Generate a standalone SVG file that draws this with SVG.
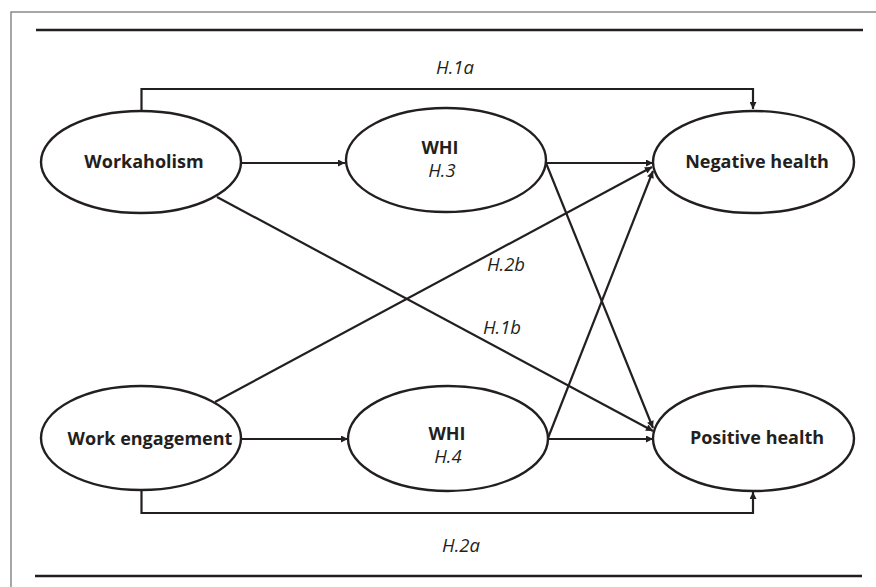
<svg xmlns="http://www.w3.org/2000/svg" width="876" height="587" viewBox="0 0 876 587">
<style>
.frame{fill:none;stroke:#6d6d6d;stroke-width:1.2}
.rule{stroke:#231f20;stroke-width:2.6}
.node{fill:#fff;stroke:#231f20;stroke-width:2.4}
.edge{fill:none;stroke:#231f20;stroke-width:2.2}
.lbl{font-family:"Open Sans","Liberation Sans",sans-serif;font-weight:bold;font-size:18px;fill:#231f20;text-anchor:middle}
.hyp{font-family:"Open Sans","Liberation Sans",sans-serif;font-style:italic;font-size:18.5px;fill:#231f20;text-anchor:middle}
</style>
<defs>
<marker id="arr" viewBox="0 0 10 10" refX="10" refY="5" markerWidth="9" markerHeight="7" markerUnits="userSpaceOnUse" orient="auto">
<path d="M0,0 L10,5 L0,10 z" fill="#231f20"/>
</marker>
</defs>
<rect class="frame" x="11" y="12" width="880" height="600"/>
<line class="rule" x1="36" y1="30" x2="863" y2="30"/>
<line class="rule" x1="35" y1="576" x2="862" y2="576"/>
<g id="connectors">
<path class="edge" d="M141.5,110 V89 H753 V109" marker-end="url(#arr)"/>
<path class="edge" d="M141.5,490 V513 H753 V492" marker-end="url(#arr)"/>
<line class="edge" x1="241" y1="163" x2="345" y2="163" marker-end="url(#arr)"/>
<line class="edge" x1="241" y1="439" x2="348" y2="439" marker-end="url(#arr)"/>
<line class="edge" x1="546" y1="163" x2="653" y2="163" marker-end="url(#arr)"/>
<line class="edge" x1="548" y1="439" x2="653" y2="439" marker-end="url(#arr)"/>
<line class="edge" x1="217" y1="197" x2="653" y2="431" marker-end="url(#arr)"/>
<line class="edge" x1="215" y1="402" x2="652" y2="167" marker-end="url(#arr)"/>
<line class="edge" x1="546" y1="163" x2="653" y2="428" marker-end="url(#arr)"/>
<line class="edge" x1="548" y1="438" x2="653" y2="171" marker-end="url(#arr)"/>
<text class="hyp" x="455" y="74">H.1a</text>
<text class="hyp" x="506" y="271">H.2b</text>
<text class="hyp" x="502" y="334">H.1b</text>
<text class="hyp" x="461" y="552">H.2a</text>
</g>
<g id="workaholism">
<ellipse class="node" cx="141" cy="162" rx="100" ry="51"/>
<text class="lbl" x="144" y="168">Workaholism</text>
</g>
<g id="whi-top">
<ellipse class="node" cx="446" cy="160" rx="100" ry="52"/>
<text class="lbl" x="440" y="154">WHI</text>
<text class="hyp" x="442" y="177">H.3</text>
</g>
<g id="negative-health">
<ellipse class="node" cx="753.5" cy="162" rx="100.5" ry="51"/>
<text class="lbl" x="757" y="168">Negative health</text>
</g>
<g id="work-engagement">
<ellipse class="node" cx="141" cy="438" rx="100" ry="52"/>
<text class="lbl" x="150" y="445">Work engagement</text>
</g>
<g id="whi-bottom">
<ellipse class="node" cx="448" cy="438.5" rx="100" ry="52.5"/>
<text class="lbl" x="447" y="440">WHI</text>
<text class="hyp" x="448" y="463">H.4</text>
</g>
<g id="positive-health">
<ellipse class="node" cx="753.5" cy="438.5" rx="100.5" ry="52.5"/>
<text class="lbl" x="757" y="444">Positive health</text>
</g>
</svg>
